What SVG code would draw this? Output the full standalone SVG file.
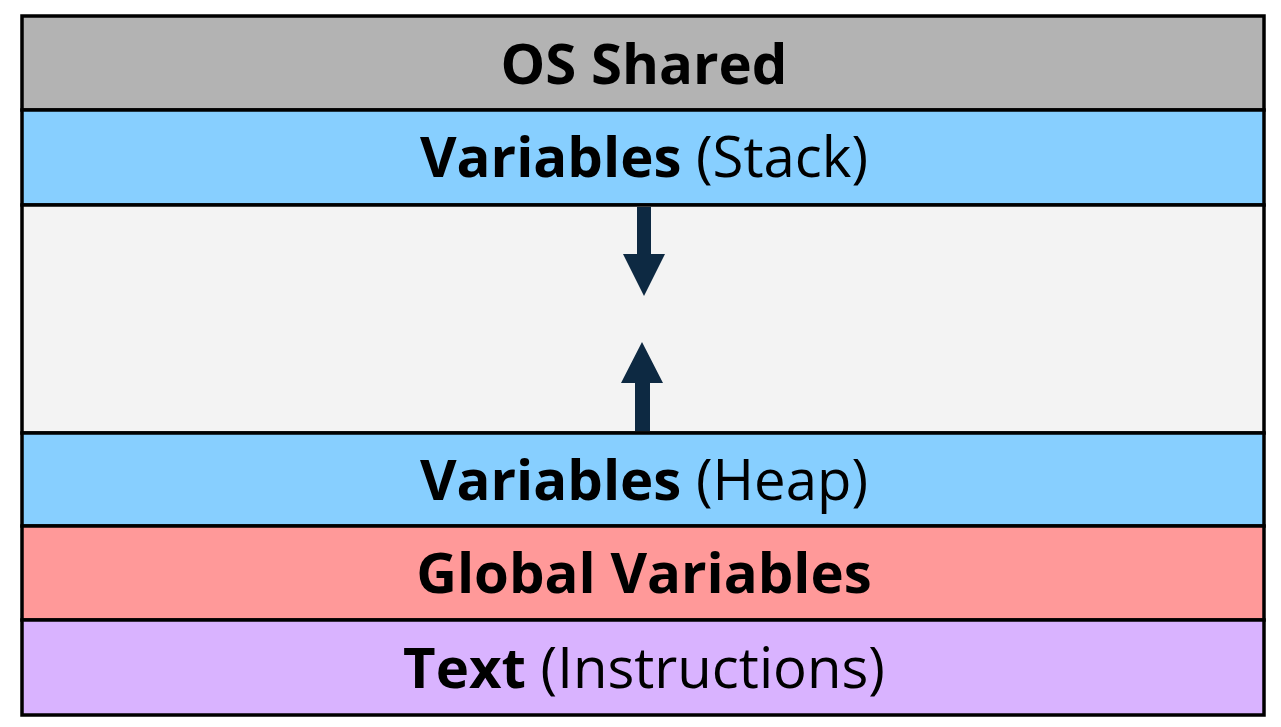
<svg xmlns="http://www.w3.org/2000/svg" width="1281" height="727" viewBox="0 0 1281 727">
<style>
.band{stroke:#000;stroke-width:3.5}
.t{font-family:"Open Sans","Noto Sans",sans-serif;font-size:56.3px;fill:#000;text-anchor:middle}
.b{font-weight:bold}
.arrow{fill:#0d2942}
</style>
<rect width="1281" height="727" fill="#fff"/>
<g id="os-shared"><rect class="band" x="22" y="16" width="1242" height="94" fill="#b3b3b3"/><text class="t b" x="644" y="84">OS Shared</text></g>
<g id="stack"><rect class="band" x="22" y="110" width="1242" height="95" fill="#87cfff"/><text class="t" x="644" y="177"><tspan class="b">Variables</tspan> (Stack)</text></g>
<g id="free"><rect class="band" x="22" y="205" width="1242" height="228" fill="#f3f3f3"/></g>
<g id="heap"><rect class="band" x="22" y="433" width="1242" height="93" fill="#87cfff"/><text class="t" x="644" y="500"><tspan class="b">Variables</tspan> (Heap)</text></g>
<g id="global"><rect class="band" x="22" y="526" width="1242" height="94" fill="#ff9999"/><text class="t b" x="644" y="593">Global Variables</text></g>
<g id="text"><rect class="band" x="22" y="620" width="1242" height="95" fill="#d9b3ff"/><text class="t" x="644" y="688"><tspan class="b">Text</tspan> (Instructions)</text></g>
<g id="connectors">
<polygon class="arrow" points="637,207 651,207 651,254 665,254 644,296 623,254 637,254"/>
<polygon class="arrow" points="635,431 650,431 650,383 663,383 642,342 621,383 635,383"/>
</g>
</svg>
